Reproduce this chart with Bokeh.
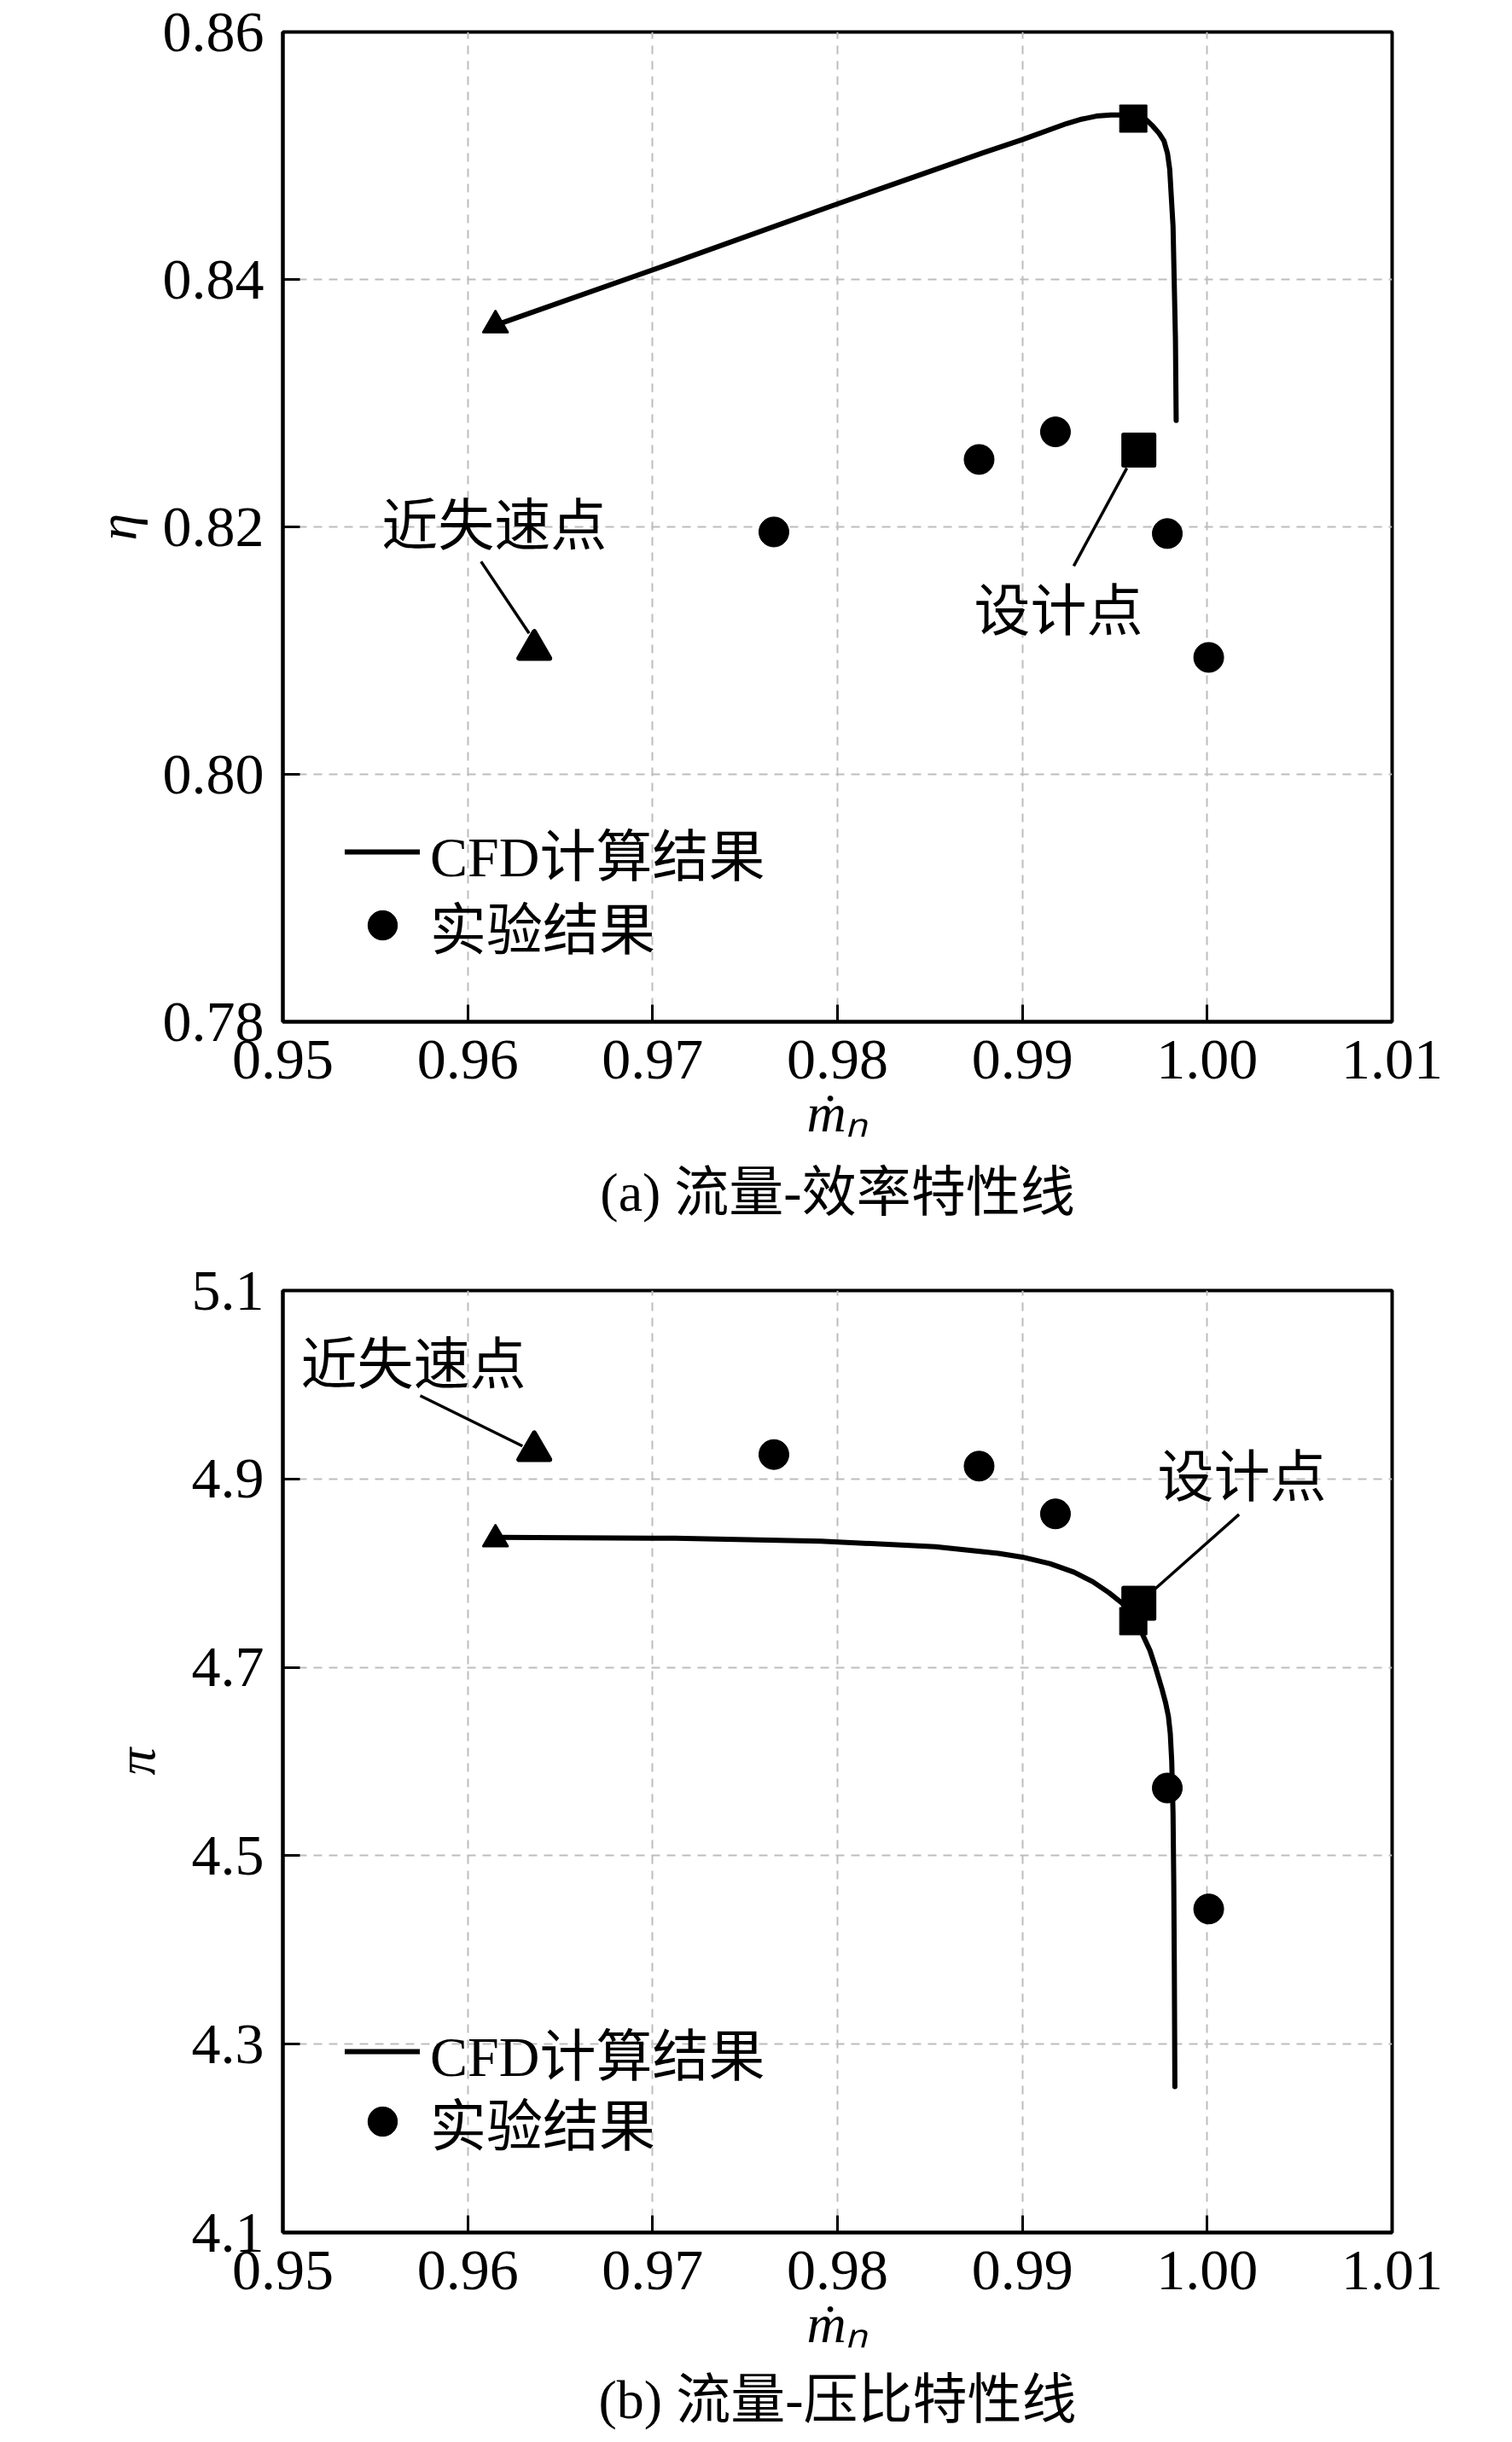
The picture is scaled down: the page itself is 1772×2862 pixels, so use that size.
from bokeh.plotting import figure
from bokeh.models import (Range1d, FixedTicker, PrintfTickFormatter, Label,
                          Legend, LegendItem, Title)
from bokeh.layouts import column
from bokeh.embed import file_html
from bokeh.resources import INLINE

# ---------------- data ----------------
x_ticks = [0.95, 0.96, 0.97, 0.98, 0.99, 1.00, 1.01]
eta_ticks = [0.78, 0.80, 0.82, 0.84, 0.86]
pi_ticks = [4.1, 4.3, 4.5, 4.7, 4.9, 5.1]

# CFD results
cfd_eta_m = [0.9615, 0.9712, 0.9796, 0.9878, 0.9900, 0.9924, 0.9932, 0.9940,
             0.9948, 0.9956, 0.9962, 0.9967, 0.99705, 0.99740, 0.99766,
             0.99785, 0.99797, 0.99815, 0.99828, 0.99832]
cfd_eta = [0.8363, 0.8414, 0.8459, 0.8502, 0.8513, 0.8526, 0.85295, 0.8532,
           0.8533, 0.8533, 0.8532, 0.8529, 0.8524, 0.8518, 0.8512,
           0.8502, 0.8489, 0.8443, 0.8352, 0.8286]

cfd_pi_m = [0.9616, 0.9712, 0.9791, 0.9853, 0.9887, 0.9900, 0.9915, 0.9928,
            0.9938, 0.9947, 0.9954, 0.9960, 0.9965, 0.9969, 0.9972, 0.99755,
            0.99774, 0.99790, 0.99800, 0.99808, 0.99815, 0.99819, 0.99822,
            0.99825]
cfd_pi = [4.838, 4.837, 4.834, 4.828, 4.821, 4.817, 4.810, 4.801,
          4.791, 4.779, 4.768, 4.752, 4.735, 4.718, 4.700, 4.677,
          4.663, 4.648, 4.630, 4.600, 4.545, 4.470, 4.380,
          4.255]

# special CFD points
cfd_stall_m, cfd_stall_eta, cfd_stall_pi = [0.9615], [0.8363], [4.836]
cfd_design_m, cfd_design_eta, cfd_design_pi = [0.9960], [0.8530], [4.749]

# experimental results
exp_m = [0.97656, 0.98766, 0.99179, 0.99784, 1.00008]
exp_eta = [0.81959, 0.82545, 0.82768, 0.81946, 0.80945]
exp_pi = [4.9259, 4.9136, 4.8629, 4.5719, 4.4435]

exp_stall_m, exp_stall_eta, exp_stall_pi = [0.9636], [0.8101], [4.930]
exp_design_m, exp_design_eta, exp_design_pi = [0.9963], [0.8262], [4.768]

# texts
legend_cfd = "CFD计算结果"
legend_exp = "实验结果"
stall_text = "近失速点"
design_text = "设计点"
caption_a = "(a) 流量-效率特性线"
caption_b = "(b) 流量-压比特性线"
x_label = "ṁₙ"

# annotation placement (text centres and leader lines)
ann_a = dict(stall_xy=(0.96144, 0.8201), design_xy=(0.99195, 0.81315),
             stall_line=((0.96072, 0.8172), (0.96332, 0.8114)),
             design_line=((0.99278, 0.81684), (0.99565, 0.82475)))
ann_b = dict(stall_xy=(0.95706, 5.021), design_xy=(1.00188, 4.9015),
             stall_line=((0.95743, 4.9884), (0.96296, 4.9349)),
             design_line=((1.00172, 4.8623), (0.99711, 4.7821)))

SERIF = "Liberation Serif"
MIXED = "'Liberation Serif', 'Noto Sans CJK SC'"
TICK_FS = "68px"
FS = "66px"


def make_panel(height, top, bottom, yr, yticks, yfmt,
               xs_cfd, ys_cfd, cfd_stall_y, cfd_design_y,
               exp_y, exp_stall_y, exp_design_y, ann, caption,
               ylab, ylab_standoff, leg_ys, cap_standoff):
    p = figure(width=1772, height=height,
               x_range=Range1d(x_ticks[0], x_ticks[-1]),
               y_range=Range1d(yr[0], yr[1]),
               output_backend="svg", toolbar_location=None,
               min_border_left=331, min_border_right=141,
               min_border_top=top, min_border_bottom=bottom)
    p.background_fill_color = "white"
    p.border_fill_color = "white"
    p.outline_line_color = "black"
    p.outline_line_width = 4

    for ax in (p.xaxis[0], p.yaxis[0]):
        ax.axis_line_width = 4
        ax.axis_line_color = "black"
        ax.major_tick_in = 20
        ax.major_tick_out = 0
        ax.major_tick_line_width = 3
        ax.minor_tick_line_color = None
        ax.major_label_text_font = SERIF
        ax.major_label_text_font_size = TICK_FS
        ax.major_label_text_color = "black"
        ax.axis_label_text_font = SERIF
        ax.axis_label_text_font_style = "italic"
        ax.axis_label_text_font_size = "64px"
        ax.axis_label_text_color = "black"
    p.xaxis[0].ticker = FixedTicker(ticks=x_ticks)
    p.xaxis[0].formatter = PrintfTickFormatter(format="%.2f")
    p.xaxis[0].major_label_standoff = 22
    p.xaxis[0].axis_label = x_label
    p.xaxis[0].axis_label_standoff = 2
    p.yaxis[0].ticker = FixedTicker(ticks=yticks)
    p.yaxis[0].formatter = PrintfTickFormatter(format=yfmt)
    p.yaxis[0].major_label_standoff = 22
    p.yaxis[0].axis_label = ylab
    p.yaxis[0].axis_label_standoff = ylab_standoff

    for g in (p.xgrid[0], p.ygrid[0]):
        g.grid_line_color = "#bdbdbd"
        g.grid_line_width = 2
        g.grid_line_dash = "10 8"
    p.xgrid[0].ticker = FixedTicker(ticks=x_ticks)
    p.ygrid[0].ticker = FixedTicker(ticks=yticks)

    # CFD line
    r_line = p.line(xs_cfd, ys_cfd, line_color="black", line_width=6,
                    line_join="round", line_cap="round")
    p.scatter(cfd_stall_m, cfd_stall_y, marker="triangle", size=30,
              fill_color="black", line_color="black", line_width=2)
    p.scatter(cfd_design_m, cfd_design_y, marker="square", size=32,
              fill_color="black", line_color="black", line_width=1)

    # leader lines
    (sx0, sy0), (sx1, sy1) = ann["stall_line"]
    (dx0, dy0), (dx1, dy1) = ann["design_line"]
    p.segment(x0=[sx0, dx0], y0=[sy0, dy0], x1=[sx1, dx1], y1=[sy1, dy1],
              line_color="black", line_width=3.5)

    # experiment
    r_exp = p.scatter(exp_m, exp_y, marker="circle", size=35,
                      fill_color="black", line_color="black")
    p.scatter(exp_stall_m, exp_stall_y, marker="triangle", size=36,
              fill_color="black", line_color="black", line_width=6,
              line_join="round")
    p.scatter(exp_design_m, exp_design_y, marker="square", size=36,
              fill_color="black", line_color="black", line_width=5,
              line_join="round")

    # annotations
    for key, txt in (("stall_xy", stall_text), ("design_xy", design_text)):
        p.add_layout(Label(x=ann[key][0], y=ann[key][1], text=txt,
                           text_font=MIXED, text_font_size=FS, text_align="center",
                           text_baseline="middle", text_color="black"))

    # legend (one entry per box so that the row pitch follows the reference)
    for (lab, rend), ly in zip(((legend_cfd, r_line), (legend_exp, r_exp)), leg_ys):
        legend = Legend(items=[LegendItem(label=lab, renderers=[rend])],
                        location=(73, ly), orientation="vertical",
                        glyph_width=88, glyph_height=86, label_height=86,
                        spacing=0, padding=0, margin=0, label_standoff=12,
                        label_text_font=MIXED, label_text_font_size=FS,
                        label_text_color="black", label_text_baseline="middle",
                        border_line_alpha=0, background_fill_alpha=0)
        p.add_layout(legend)

    # caption below the axis
    cap = Title(text=caption, align="center", text_font=MIXED,
                text_font_size="64px", text_font_style="normal",
                text_color="black", standoff=cap_standoff)
    p.add_layout(cap, "below")
    return p


p1 = make_panel(1460, 37, 263, (eta_ticks[0], eta_ticks[-1]), eta_ticks, "%.2f",
                cfd_eta_m, cfd_eta, cfd_stall_eta, cfd_design_eta,
                exp_eta, exp_stall_eta, exp_design_eta, ann_a, caption_a,
                "η", 15, (151, 65), 35)
p2 = make_panel(1402, 52, 246, (pi_ticks[0], pi_ticks[-1]), pi_ticks, "%.1f",
                cfd_pi_m, cfd_pi, cfd_stall_pi, cfd_design_pi,
                exp_pi, exp_stall_pi, exp_design_pi, ann_b, caption_b,
                "π", 27, (164, 82), 27)

layout = column(p1, p2, spacing=0)
open("out.html", "w").write(file_html(layout, INLINE))
